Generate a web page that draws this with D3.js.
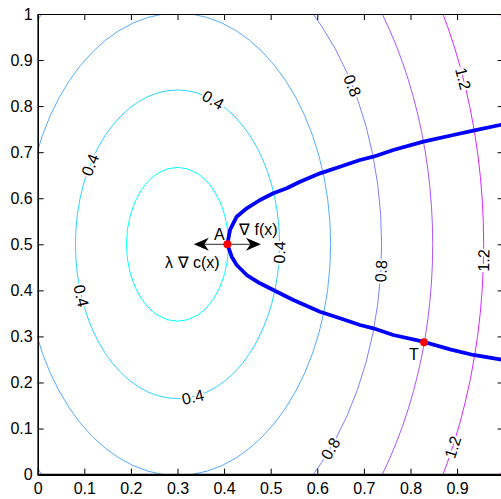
<!DOCTYPE html>
<html><head><meta charset="utf-8">
<script src="https://cdn.jsdelivr.net/npm/d3@7"></script>
<style>
html,body{margin:0;padding:0;background:#fff;}
text{font-family:"Liberation Sans",Arial,sans-serif;}
</style></head>
<body>
<svg id="chart" width="501" height="499"></svg>
<script>
// ---- data ----
const levels   = [0.2, 0.4, 0.6, 0.8, 1.0, 1.2, 1.4];
const radiusX  = [0.1095, 0.219, 0.3286, 0.438, 0.5477, 0.657, 0.767];
const radiusY  = [0.167, 0.335, 0.502, 0.669, 0.837, 1.004, 1.171];
const centre   = [0.3, 0.5];
const labelLevels = [0.4, 0.4, 0.4, 0.4, 0.4, 0.8, 0.8, 0.8, 1.2, 1.2, 1.2];
const labelAngles = [69.5, 149, 199.5, 278.6, -3, 31, -5, -41.5, 21, -2, -26];
const upperX = [0.407, 0.4127, 0.4270, 0.4485, 0.4770, 0.5056, 0.5343, 0.5629, 0.6058, 0.6487, 0.6916, 0.7202, 0.7631, 0.8275, 0.8918, 0.9348, 0.9920, 1.0];
const upperY = [0.500, 0.5313, 0.5599, 0.5782, 0.5962, 0.6107, 0.6216, 0.6359, 0.6541, 0.6685, 0.6830, 0.6902, 0.7047, 0.7228, 0.7373, 0.7466, 0.7590, 0.761];
const lowerX = [0.407, 0.4163, 0.4270, 0.4485, 0.4770, 0.5056, 0.5485, 0.6058, 0.6487, 0.6916, 0.7202, 0.7631, 0.8275, 0.8848, 0.9348, 0.9920, 1.0];
const lowerY = [0.500, 0.4731, 0.4550, 0.4333, 0.4153, 0.4008, 0.3791, 0.3537, 0.3393, 0.3248, 0.3176, 0.3031, 0.2885, 0.2720, 0.2597, 0.2503, 0.249];
const pointNames = ["A", "T"];
const pointX = [0.407, 0.829];
const pointY = [0.500, 0.2874];
const gradF = [0.072, 0];    // ∇ f(x) arrow vector
const gradC = [-0.072, 0];   // λ ∇ c(x) arrow vector
const ticks = [0, 0.1, 0.2, 0.3, 0.4, 0.5, 0.6, 0.7, 0.8, 0.9, 1];
const xTickLabels = [0, 0.1, 0.2, 0.3, 0.4, 0.5, 0.6, 0.7, 0.8, 0.9];

// ---- drawing ----
const FS = 16;
const svg = d3.select("#chart");
const x = d3.scaleLinear().domain([0, 1]).range([37.7, 503.7]);
const y = d3.scaleLinear().domain([0, 1]).range([474.6, 14]);
const color = d3.scaleSequential(t => d3.rgb(255 * t, 255 * (1 - t), 255).toString())
  .domain([levels[0], levels[levels.length - 1]]);

svg.append("defs").append("clipPath").attr("id", "clip")
  .append("rect").attr("x", x(0)).attr("y", y(1)).attr("width", x(1) - x(0)).attr("height", y(0) - y(1));

const plot = svg.append("g").attr("clip-path", "url(#clip)");

plot.selectAll("ellipse.c").data(levels).join("ellipse")
  .attr("class", "c")
  .attr("cx", x(centre[0])).attr("cy", y(centre[1]))
  .attr("rx", (d, i) => x(centre[0] + radiusX[i]) - x(centre[0]))
  .attr("ry", (d, i) => y(centre[1]) - y(centre[1] + radiusY[i]))
  .attr("fill", "none")
  .attr("stroke", d => color(d))
  .attr("stroke-width", 1);

// contour labels
const labels = labelLevels.map((lv, i) => {
  const k = levels.indexOf(lv);
  const t = labelAngles[i] * Math.PI / 180;
  const px = x(centre[0] + radiusX[k] * Math.cos(t));
  const py = y(centre[1] + radiusY[k] * Math.sin(t));
  const dpx = x(centre[0] + radiusX[k] * Math.cos(t + 0.01)) - x(centre[0] + radiusX[k] * Math.cos(t - 0.01));
  const dpy = y(centre[1] + radiusY[k] * Math.sin(t + 0.01)) - y(centre[1] + radiusY[k] * Math.sin(t - 0.01));
  let ang = Math.atan2(dpy, dpx) * 180 / Math.PI;
  if (ang > 90) ang -= 180;
  if (ang <= -90) ang += 180;
  return {lv, px, py, ang};
});
plot.selectAll("text.cl").data(labels).join("text")
  .attr("class", "cl")
  .attr("transform", d => `translate(${d.px},${d.py}) rotate(${d.ang})`)
  .attr("text-anchor", "middle").attr("dy", "0.36em")
  .attr("font-size", FS)
  .attr("fill", "#000")
  .attr("stroke", "#fff").attr("stroke-width", 4).attr("paint-order", "stroke")
  .text(d => d3.format(".1f")(d.lv));

// constraint curve
const line = d3.line().x(d => x(d[0])).y(d => y(d[1]));
const upper = upperX.map((v, i) => [v, upperY[i]]);
const lower = lowerX.map((v, i) => [v, lowerY[i]]);
[upper, lower].forEach(pts => {
  plot.append("path").attr("d", line(pts))
    .attr("fill", "none").attr("stroke", "#0000ff")
    .attr("stroke-width", 3.8).attr("stroke-linejoin", "round").attr("stroke-linecap", "round");
});

// arrows
function arrow(x0, y0, vx, vy) {
  const X0 = x(x0), Y0 = y(y0), X1 = x(x0 + vx), Y1 = y(y0 + vy);
  const L = Math.hypot(X1 - X0, Y1 - Y0), ux = (X1 - X0) / L, uy = (Y1 - Y0) / L;
  const hl = 15, hw = 6.5;
  plot.append("line").attr("x1", X0).attr("y1", Y0).attr("x2", X1 - ux * 6).attr("y2", Y1 - uy * 6)
    .attr("stroke", "#555").attr("stroke-width", 1.2);
  const bx = X1 - ux * hl, by = Y1 - uy * hl;
  const nx = -uy, ny = ux;
  plot.append("path")
    .attr("d", `M${X1},${Y1}L${bx + nx * hw},${by + ny * hw}L${X1 - ux * hl * 0.7},${Y1 - uy * hl * 0.7}L${bx - nx * hw},${by - ny * hw}Z`)
    .attr("fill", "#000");
}
arrow(pointX[0], pointY[0], gradF[0], gradF[1]);
arrow(pointX[0], pointY[0], gradC[0], gradC[1]);

// points
plot.selectAll("circle.p").data(pointX).join("circle")
  .attr("class", "p")
  .attr("cx", d => x(d)).attr("cy", (d, i) => y(pointY[i]))
  .attr("r", 4).attr("fill", "#ff0000");

// annotation texts
const ax = x(pointX[0]), ay = y(pointY[0]);
plot.append("text").attr("x", ax - 8).attr("y", ay - 4)
  .attr("text-anchor", "middle").attr("font-size", FS).text(pointNames[0]);
plot.append("text").attr("x", x(pointX[1]) - 10).attr("y", y(pointY[1]) + 18)
  .attr("text-anchor", "middle").attr("font-size", FS).text(pointNames[1]);
plot.append("text").attr("x", ax + 31).attr("y", ay - 9.5)
  .attr("text-anchor", "middle").attr("font-size", FS).text("\u2207 f(x)");
plot.append("text").attr("x", ax - 35).attr("y", ay + 24)
  .attr("text-anchor", "middle").attr("font-size", FS).text("\u03bb \u2207 c(x)");

// axes
const fmt = d => d === 0 || d === 1 ? String(d) : d3.format(".1f")(d);
const gx = svg.append("g").attr("transform", `translate(0,${y(0)})`)
  .call(d3.axisBottom(x).tickValues(xTickLabels).tickFormat(fmt).tickSizeInner(-6).tickSizeOuter(0).tickPadding(8));
const gy = svg.append("g").attr("transform", `translate(${x(0)},0)`)
  .call(d3.axisLeft(y).tickValues(ticks).tickFormat(fmt).tickSizeInner(-6).tickSizeOuter(0).tickPadding(5));
const gt = svg.append("g").attr("transform", `translate(0,${y(1)})`)
  .call(d3.axisTop(x).tickValues(ticks).tickFormat("").tickSizeInner(-6).tickSizeOuter(0));
const gr = svg.append("g").attr("transform", `translate(${x(1)},0)`)
  .call(d3.axisRight(y).tickValues(ticks).tickFormat("").tickSizeInner(-6).tickSizeOuter(0));
svg.append("line").attr("x1", x(0)).attr("x2", x(1)).attr("y1", y(0)).attr("y2", y(0))
  .attr("stroke", "#000").attr("stroke-width", 1.6);
[gx, gy].forEach(g => {
  g.selectAll("text").attr("font-size", FS).attr("font-family", "Liberation Sans, Arial, sans-serif").attr("fill", "#000");
  g.select(".domain").attr("stroke", "#000").attr("stroke-width", 1.6);
  g.selectAll(".tick line").attr("stroke", "#000");
});
[gt, gr].forEach(g => {
  g.select(".domain").attr("stroke", "#000").attr("stroke-width", 1);
  g.selectAll(".tick line").attr("stroke", "#000");
});
gx.selectAll("text").attr("dy", "0.71em");
</script>
</body></html>
